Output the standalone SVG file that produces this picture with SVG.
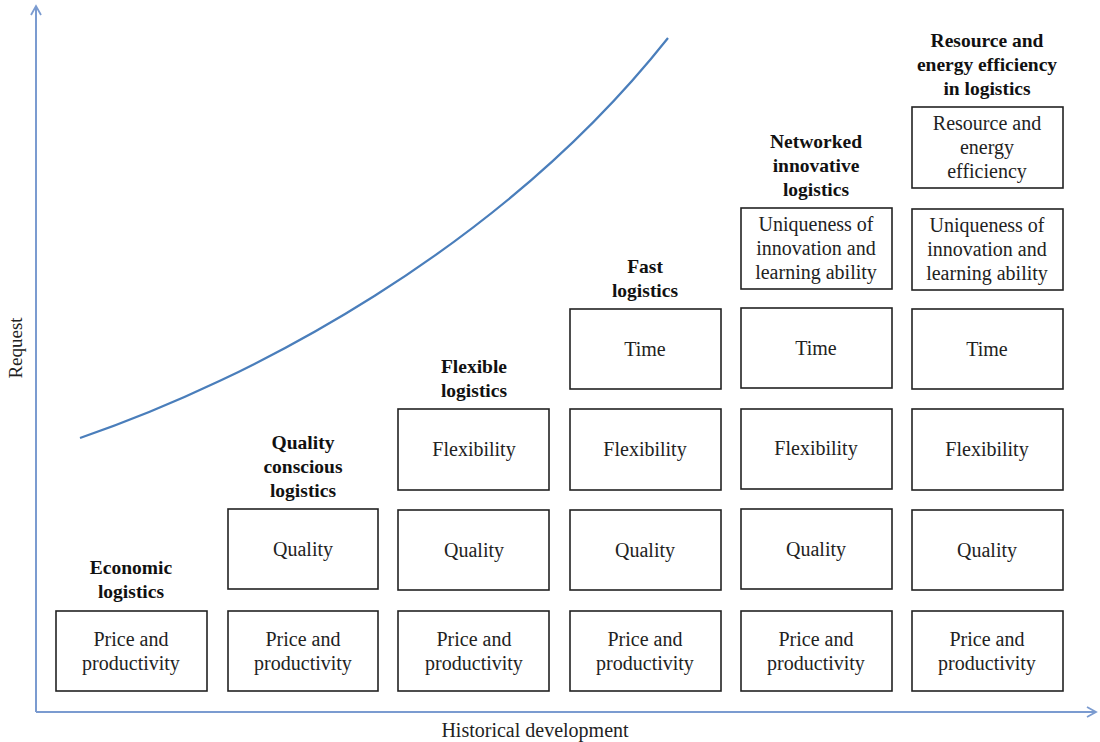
<svg xmlns="http://www.w3.org/2000/svg" width="1100" height="742" viewBox="0 0 1100 742">
<style>
.box{fill:#fff;stroke:#222;stroke-width:1.6}
.t{font-family:"Liberation Serif","Times New Roman",serif;font-size:20px;fill:#222;text-anchor:middle}
.h{font-family:"Liberation Serif","Times New Roman",serif;font-size:19.5px;font-weight:bold;fill:#111;text-anchor:middle}
.ax{stroke:#7b9bd0;stroke-width:2;fill:none}
</style>
<defs>
<marker id="arr" markerWidth="12" markerHeight="12" refX="10" refY="6" orient="auto" markerUnits="userSpaceOnUse">
<path d="M1,1 L10,6 L1,11" fill="none" stroke="#7b9bd0" stroke-width="1.8"/>
</marker>
</defs>
<rect width="1100" height="742" fill="#fff"/>
<g id="connectors">
<line class="ax" x1="36" y1="712" x2="36" y2="6" marker-end="url(#arr)"/>
<line class="ax" x1="36" y1="712" x2="1096" y2="712" marker-end="url(#arr)"/>
<path d="M80,438 C250,380 500,250 668,38" fill="none" stroke="#4a7ebb" stroke-width="2.2"/>
</g>
<g id="axis-labels">
<text class="t" x="0" y="0" transform="translate(22,348) rotate(-90)" style="font-size:19px">Request</text>
<text class="t" x="535" y="737">Historical development</text>
</g>
<g id="col1">
<text class="h" x="131" y="574">Economic</text>
<text class="h" x="131" y="598">logistics</text>
<rect class="box" x="56" y="611" width="151" height="80"/>
<text class="t" x="131" y="646">Price and</text>
<text class="t" x="131" y="670">productivity</text>
</g>
<g id="col2">
<text class="h" x="303" y="449">Quality</text>
<text class="h" x="303" y="473">conscious</text>
<text class="h" x="303" y="497">logistics</text>
<rect class="box" x="228" y="509" width="150" height="80"/>
<text class="t" x="303" y="556">Quality</text>
<rect class="box" x="228" y="611" width="150" height="80"/>
<text class="t" x="303" y="646">Price and</text>
<text class="t" x="303" y="670">productivity</text>
</g>
<g id="col3">
<text class="h" x="474" y="373">Flexible</text>
<text class="h" x="474" y="397">logistics</text>
<rect class="box" x="398" y="409" width="151" height="81"/>
<text class="t" x="474" y="456">Flexibility</text>
<rect class="box" x="398" y="510" width="151" height="80"/>
<text class="t" x="474" y="557">Quality</text>
<rect class="box" x="398" y="611" width="151" height="80"/>
<text class="t" x="474" y="646">Price and</text>
<text class="t" x="474" y="670">productivity</text>
</g>
<g id="col4">
<text class="h" x="645" y="273">Fast</text>
<text class="h" x="645" y="297">logistics</text>
<rect class="box" x="570" y="309" width="151" height="80"/>
<text class="t" x="645" y="356">Time</text>
<rect class="box" x="570" y="409" width="151" height="81"/>
<text class="t" x="645" y="456">Flexibility</text>
<rect class="box" x="570" y="510" width="151" height="80"/>
<text class="t" x="645" y="557">Quality</text>
<rect class="box" x="570" y="611" width="151" height="80"/>
<text class="t" x="645" y="646">Price and</text>
<text class="t" x="645" y="670">productivity</text>
</g>
<g id="col5">
<text class="h" x="816" y="148">Networked</text>
<text class="h" x="816" y="172">innovative</text>
<text class="h" x="816" y="196">logistics</text>
<rect class="box" x="741" y="208" width="151" height="81"/>
<text class="t" x="816" y="231">Uniqueness of</text>
<text class="t" x="816" y="255">innovation and</text>
<text class="t" x="816" y="279">learning ability</text>
<rect class="box" x="741" y="308" width="151" height="80"/>
<text class="t" x="816" y="355">Time</text>
<rect class="box" x="741" y="409" width="151" height="80"/>
<text class="t" x="816" y="455">Flexibility</text>
<rect class="box" x="741" y="509" width="151" height="80"/>
<text class="t" x="816" y="556">Quality</text>
<rect class="box" x="741" y="611" width="151" height="80"/>
<text class="t" x="816" y="646">Price and</text>
<text class="t" x="816" y="670">productivity</text>
</g>
<g id="col6">
<text class="h" x="987" y="47">Resource and</text>
<text class="h" x="987" y="71">energy efficiency</text>
<text class="h" x="987" y="95">in logistics</text>
<rect class="box" x="912" y="107" width="151" height="81"/>
<text class="t" x="987" y="130">Resource and</text>
<text class="t" x="987" y="154">energy</text>
<text class="t" x="987" y="178">efficiency</text>
<rect class="box" x="912" y="209" width="151" height="81"/>
<text class="t" x="987" y="232">Uniqueness of</text>
<text class="t" x="987" y="256">innovation and</text>
<text class="t" x="987" y="280">learning ability</text>
<rect class="box" x="912" y="309" width="151" height="80"/>
<text class="t" x="987" y="356">Time</text>
<rect class="box" x="912" y="409" width="151" height="81"/>
<text class="t" x="987" y="456">Flexibility</text>
<rect class="box" x="912" y="510" width="151" height="80"/>
<text class="t" x="987" y="557">Quality</text>
<rect class="box" x="912" y="611" width="151" height="80"/>
<text class="t" x="987" y="646">Price and</text>
<text class="t" x="987" y="670">productivity</text>
</g>
</svg>
